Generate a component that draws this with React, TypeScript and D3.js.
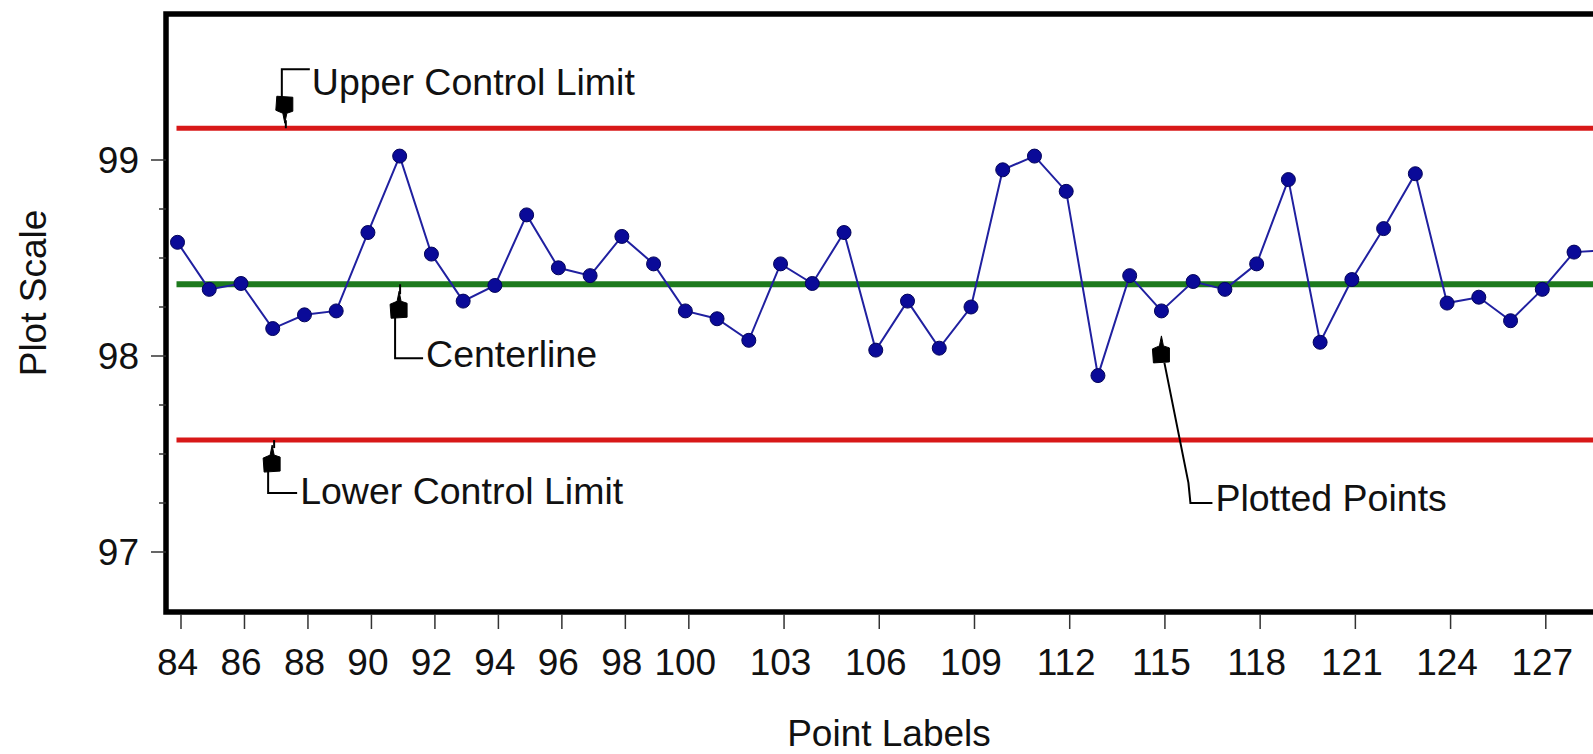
import React from "react";
import * as d3 from "d3";

// ---- data ----
const pointLabels: number[] = [
  84, 85, 86, 87, 88, 89, 90, 91, 92, 93, 94, 95, 96, 97, 98, 99, 100, 101, 102,
  103, 104, 105, 106, 107, 108, 109, 110, 111, 112, 113, 114, 115, 116, 117, 118,
  119, 120, 121, 122, 123, 124, 125, 126, 127, 128, 129,
];
const plotValues: number[] = [
  98.58, 98.34, 98.37, 98.14, 98.21, 98.23, 98.63, 99.02, 98.52, 98.28, 98.36,
  98.72, 98.45, 98.41, 98.61, 98.47, 98.23, 98.19, 98.08, 98.47, 98.37, 98.63,
  98.03, 98.28, 98.04, 98.25, 98.95, 99.02, 98.84, 97.9, 98.41, 98.23, 98.38,
  98.34, 98.47, 98.9, 98.07, 98.39, 98.65, 98.93, 98.27, 98.3, 98.18, 98.34,
  98.53, 98.54,
];
const xTickLabels: number[] = [
  84, 86, 88, 90, 92, 94, 96, 98, 100, 103, 106, 109, 112, 115, 118, 121, 124, 127,
];
const yTickLabels: number[] = [97, 98, 99];
const yMinorTicks: number[] = [97.25, 97.5, 97.75, 98.25, 98.5, 98.75];
const upperControlLimit = 99.162;
const centerlineValue = 98.366;
const lowerControlLimit = 97.571;

const W = 1593;
const H = 754;
const FONT = "'Liberation Sans', Arial, Helvetica, sans-serif";

const x = d3.scaleLinear().domain([84, 127]).range([177.5, 1542.3]);
const y = d3.scaleLinear().domain([97, 99]).range([552, 160]);

const frameLeft = 166;
const frameTop = 14;
const frameBottom = 612;

function Arrow({ tx, ty, dir }: { tx: number; ty: number; dir: 1 | -1 }) {
  // dir = -1 : pointing up (tip at top), dir = 1 : pointing down
  const s = -dir;
  const shape = [
    [0, 0],
    [2, 10],
    [8, 12],
    [8, 26],
    [-8, 27],
    [-9, 13],
    [-2, 10],
  ];
  const pts = shape.map(([dx, dy]) => `${tx + dx},${ty + s * dy}`).join(" ");
  return <polygon points={pts} fill="#000" stroke="#000" strokeWidth={1} strokeLinejoin="round" />;
}

export default function App() {
  const data = pointLabels.map((l, i) => ({ l, v: plotValues[i] }));
  const line = d3
    .line<{ l: number; v: number }>()
    .x((d) => x(d.l))
    .y((d) => y(d.v));

  const yU = y(upperControlLimit);
  const yC = y(centerlineValue);
  const yL = y(lowerControlLimit);
  const lineStart = x(84) - 1;

  // annotation anchors (data-based)
  const uX = x(87.35);
  const cX = x(90.95);
  const lX = x(86.95);
  const pX = x(115);
  const pY = y(plotValues[pointLabels.indexOf(115)]);

  return (
    <div style={{ position: "absolute", left: 0, top: 0 }}>
      <svg width={W} height={H} style={{ display: "block", background: "#fff" }}>
        {/* control lines */}
        <line x1={lineStart} x2={W} y1={yU} y2={yU} stroke="#d81818" strokeWidth={5} />
        <line x1={lineStart} x2={W} y1={yL} y2={yL} stroke="#d81818" strokeWidth={5} />
        <line x1={lineStart} x2={W} y1={yC} y2={yC} stroke="#1d7a1d" strokeWidth={6} />

        {/* data line & points */}
        <path d={line(data) || ""} fill="none" stroke="#2020a0" strokeWidth={2} />
        {data.map((d) => (
          <circle
            key={d.l}
            cx={x(d.l)}
            cy={y(d.v)}
            r={7}
            fill="#0a0a98"
            stroke="#04045a"
            strokeWidth={1}
          />
        ))}

        {/* frame */}
        <path
          d={`M${W + 10},${frameTop} L${frameLeft},${frameTop} L${frameLeft},${frameBottom} L${W + 10},${frameBottom}`}
          fill="none"
          stroke="#000"
          strokeWidth={5.5}
        />

        {/* y axis ticks and labels */}
        {yTickLabels.map((t) => (
          <g key={t}>
            <line x1={151} x2={frameLeft} y1={y(t)} y2={y(t)} stroke="#333" strokeWidth={1.5} />
            <text
              x={139}
              y={y(t)}
              dy="0.36em"
              textAnchor="end"
              fontFamily={FONT}
              fontSize={37}
              fill="#111"
            >
              {t}
            </text>
          </g>
        ))}
        {yMinorTicks.map((t) => (
          <line key={t} x1={159} x2={frameLeft} y1={y(t)} y2={y(t)} stroke="#333" strokeWidth={1.5} />
        ))}

        {/* x axis ticks and labels */}
        {xTickLabels.map((t) => (
          <g key={t}>
            <line
              x1={x(t) + 3.5}
              x2={x(t) + 3.5}
              y1={frameBottom + 2}
              y2={629}
              stroke="#333"
              strokeWidth={1.5}
            />
            <text
              x={x(t)}
              y={675}
              textAnchor="middle"
              fontFamily={FONT}
              fontSize={37}
              fill="#111"
            >
              {t}
            </text>
          </g>
        ))}

        {/* axis titles */}
        <text
          x={889}
          y={746}
          textAnchor="middle"
          fontFamily={FONT}
          fontSize={37}
          fill="#111"
        >
          Point Labels
        </text>
        <text
          transform={`translate(46,293) rotate(-90)`}
          textAnchor="middle"
          fontFamily={FONT}
          fontSize={37}
          fill="#111"
        >
          Plot Scale
        </text>

        {/* Upper Control Limit annotation */}
        <g stroke="#000" strokeWidth={2} fill="none">
          <path d={`M${uX + 26},${yU - 59} L${uX - 2},${yU - 59} L${uX - 2},${yU - 30}`} />
          <line x1={uX + 2} x2={uX + 2} y1={yU - 8} y2={yU} />
        </g>
        <Arrow tx={uX + 1} ty={yU - 5} dir={1} />
        <text x={uX + 28} y={yU - 33} fontFamily={FONT} fontSize={37.5} fill="#111">
          Upper Control Limit
        </text>

        {/* Centerline annotation */}
        <g stroke="#000" strokeWidth={2} fill="none">
          <line x1={cX + 2} x2={cX + 2} y1={yC} y2={yC + 10} />
          <path d={`M${cX - 3},${yC + 32} L${cX - 3},${yC + 74} L${cX + 25},${yC + 74}`} />
        </g>
        <Arrow tx={cX + 1} ty={yC + 7} dir={-1} />
        <text x={cX + 28} y={yC + 83} fontFamily={FONT} fontSize={37.5} fill="#111">
          Centerline
        </text>

        {/* Lower Control Limit annotation */}
        <g stroke="#000" strokeWidth={2} fill="none">
          <line x1={lX + 3} x2={lX + 3} y1={yL} y2={yL + 8} />
          <path d={`M${lX - 3},${yL + 31} L${lX - 3},${yL + 53} L${lX + 26},${yL + 53}`} />
        </g>
        <Arrow tx={lX + 1} ty={yL + 5} dir={-1} />
        <text x={lX + 29} y={yL + 64} fontFamily={FONT} fontSize={37.5} fill="#111">
          Lower Control Limit
        </text>

        {/* Plotted Points annotation */}
        <g stroke="#000" strokeWidth={2} fill="none">
          <path
            d={`M${pX + 3},${pY + 52} L${pX + 27},${pY + 172} L${pX + 29},${pY + 192} L${pX + 51},${pY + 192}`}
          />
        </g>
        <Arrow tx={pX} ty={pY + 25} dir={-1} />
        <text x={pX + 54} y={pY + 200} fontFamily={FONT} fontSize={37.5} fill="#111">
          Plotted Points
        </text>
      </svg>
    </div>
  );
}
